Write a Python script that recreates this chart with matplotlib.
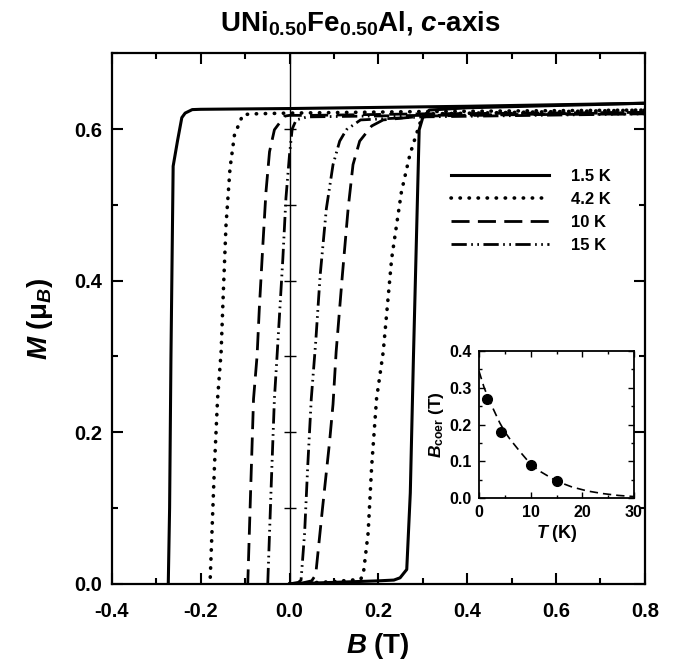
import numpy as np
import matplotlib
matplotlib.use("Agg")
import matplotlib.pyplot as plt
from matplotlib.ticker import MultipleLocator

plt.rcParams["font.family"] = "Liberation Sans"
plt.rcParams["font.weight"] = "bold"
plt.rcParams["axes.labelweight"] = "bold"
plt.rcParams["axes.unicode_minus"] = False
plt.rcParams["mathtext.fontset"] = "custom"
plt.rcParams["mathtext.rm"] = "Liberation Sans:bold"
plt.rcParams["mathtext.it"] = "Liberation Sans:italic:bold"
plt.rcParams["mathtext.bf"] = "Liberation Sans:bold"
plt.rcParams["mathtext.sf"] = "Liberation Sans:bold"

# hysteresis branches, field in T, moment in mu_B
# descending branch (high field -> negative coercive field)
b_desc_15 = [0.8, 0.4, 0.0, -0.2, -0.219, -0.235, -0.2425, -0.252, -0.262, -0.267, -0.270, -0.273]
m_desc_15 = [0.634, 0.630, 0.627, 0.626, 0.6256, 0.621, 0.615, 0.585, 0.551, 0.297, 0.10, 0.0]
b_asc_15 = [0.0, 0.10, 0.20, 0.235, 0.249, 0.264, 0.272, 0.279, 0.292, 0.300, 0.315, 0.40, 0.8]
m_asc_15 = [0.0, 0.002, 0.004, 0.005, 0.008, 0.019, 0.12, 0.297, 0.599, 0.615, 0.625, 0.628, 0.634]

b_desc_42 = [0.8, 0.3, 0.0, -0.08, -0.105, -0.124, -0.134, -0.143, -0.149, -0.154, -0.162, -0.169, -0.179]
m_desc_42 = [0.625, 0.623, 0.621, 0.620, 0.619, 0.592, 0.548, 0.473, 0.385, 0.306, 0.244, 0.155, 0.0]
b_asc_42 = [0.0, 0.10, 0.16, 0.166, 0.177, 0.185, 0.196, 0.211, 0.230, 0.252, 0.271, 0.285, 0.298, 0.32, 0.8]
m_asc_42 = [0.0, 0.003, 0.006, 0.012, 0.067, 0.155, 0.244, 0.306, 0.429, 0.517, 0.566, 0.592, 0.615, 0.620, 0.625]

b_desc_10 = [0.8, 0.3, 0.05, 0.0, -0.011, -0.034, -0.045, -0.053, -0.060, -0.068, -0.073, -0.081, -0.087, -0.094]
m_desc_10 = [0.622, 0.620, 0.618, 0.618, 0.617, 0.599, 0.570, 0.517, 0.447, 0.363, 0.301, 0.244, 0.133, 0.0]
b_asc_10 = [0.02, 0.05, 0.059, 0.074, 0.090, 0.098, 0.105, 0.119, 0.132, 0.143, 0.158, 0.185, 0.211, 0.30, 0.8]
m_asc_10 = [0.0, 0.004, 0.012, 0.098, 0.186, 0.237, 0.306, 0.407, 0.495, 0.553, 0.584, 0.604, 0.612, 0.617, 0.622]

b_desc_150 = [0.8, 0.3, 0.04, 0.015, 0.006, 0.0, -0.008, -0.015, -0.023, -0.028, -0.034, -0.041, -0.049]
m_desc_150 = [0.620, 0.618, 0.616, 0.612, 0.600, 0.566, 0.509, 0.429, 0.350, 0.301, 0.244, 0.133, 0.0]
b_asc_150 = [0.0, 0.02, 0.026, 0.034, 0.041, 0.049, 0.059, 0.069, 0.083, 0.098, 0.113, 0.128, 0.16, 0.3, 0.8]
m_asc_150 = [0.0, 0.002, 0.005, 0.067, 0.155, 0.244, 0.319, 0.407, 0.495, 0.553, 0.584, 0.599, 0.612, 0.616, 0.620]

labels = ["1.5 K", "4.2 K", "10 K", "15 K"]

# coercive field vs temperature (inset)
t_coer = [1.5, 4.2, 10, 15]
b_coer = [0.27, 0.18, 0.09, 0.045]
t_fit = [0, 1, 2, 3, 4, 5, 6, 8, 10, 12, 15, 18, 21, 24, 27, 30]
b_fit = [0.345, 0.30, 0.265, 0.235, 0.205, 0.18, 0.16, 0.125, 0.092, 0.071, 0.046, 0.030, 0.019, 0.012, 0.007, 0.004]

styles = [
    dict(linestyle="-", lw=2.2),
    dict(linestyle=(0, (0.1, 2.4)), lw=2.6, dash_capstyle="round"),
    dict(linestyle=(0, (6.5, 3.0)), lw=2.0),
    dict(linestyle=(0, (5.5, 1.6, 0.6, 1.6, 0.6, 1.6)), lw=2.0),
]

fig = plt.figure(figsize=(6.78, 6.65), dpi=100)
ax = fig.add_axes([0.165, 0.122, 0.786, 0.798])

loops = [
    (b_desc_15, m_desc_15, b_asc_15, m_asc_15),
    (b_desc_42, m_desc_42, b_asc_42, m_asc_42),
    (b_desc_10, m_desc_10, b_asc_10, m_asc_10),
    (b_desc_150, m_desc_150, b_asc_150, m_asc_150),
]
for (bd, md, ba, ma), st, lab in zip(loops, styles, labels):
    ax.plot(bd, md, color="black", label=lab, **st)
    ax.plot(ba, ma, color="black", **st)

# zero-field line with small cross ticks
ax.axvline(0, color="black", lw=1.0)
ax.plot(np.zeros(7), np.arange(7) * 0.1, linestyle="none", marker="_",
        markersize=9, markeredgewidth=1.0, color="black")

ax.set_xlim(-0.4, 0.8)
ax.set_ylim(0.0, 0.7)
ax.xaxis.set_major_locator(MultipleLocator(0.2))
ax.xaxis.set_minor_locator(MultipleLocator(0.1))
ax.yaxis.set_major_locator(MultipleLocator(0.2))
ax.yaxis.set_minor_locator(MultipleLocator(0.1))
ax.tick_params(which="both", direction="in", top=True, right=True, width=1.5)
ax.tick_params(which="major", length=8, labelsize=14.5)
ax.tick_params(axis="x", which="major", pad=13)
ax.tick_params(axis="y", which="major", pad=7)
ax.tick_params(which="minor", length=4.5)
for s in ax.spines.values():
    s.set_linewidth(1.6)

ax.set_xlabel(r"$B$ (T)", fontsize=20, fontweight="bold", labelpad=7)
ax.set_ylabel(r"$M$ (μ$_B$)", fontsize=20, fontweight="bold", labelpad=14)
fig.text(0.531, 0.987, r"UNi$_{\mathrm{0.50}}$Fe$_{\mathrm{0.50}}$Al, $c$-axis",
         fontsize=20, fontweight="bold", ha="center", va="top")

ax.legend(loc="upper left", bbox_to_anchor=(0.608, 0.81), frameon=False,
          handlelength=5.9, handletextpad=1.3, labelspacing=0.48,
          prop=dict(size=12, weight="bold"))

# inset: coercive field
ins = fig.add_axes([0.7065, 0.2511, 0.2286, 0.2211])
ins.plot(t_fit, b_fit, color="black", lw=1.2, linestyle=(0, (5, 3)))
ins.plot(t_coer, b_coer, "o", color="black", markersize=7)
ins.set_xlim(0, 30)
ins.set_ylim(0, 0.4)
ins.xaxis.set_major_locator(MultipleLocator(10))
ins.xaxis.set_minor_locator(MultipleLocator(5))
ins.yaxis.set_major_locator(MultipleLocator(0.1))
ins.yaxis.set_minor_locator(MultipleLocator(0.05))
ins.tick_params(which="both", direction="in", top=True, right=True, width=1.0)
ins.tick_params(which="major", length=4, labelsize=11.5, pad=5)
ins.tick_params(which="minor", length=2)
for s in ins.spines.values():
    s.set_linewidth(1.3)
ins.set_xlabel(r"$T$ (K)", fontsize=13, fontweight="bold", labelpad=2)
ins.set_ylabel(r"$B_{\mathrm{coer}}$ (T)", fontsize=12.5, fontweight="bold", labelpad=3)

fig.savefig("out.png", dpi=100)
